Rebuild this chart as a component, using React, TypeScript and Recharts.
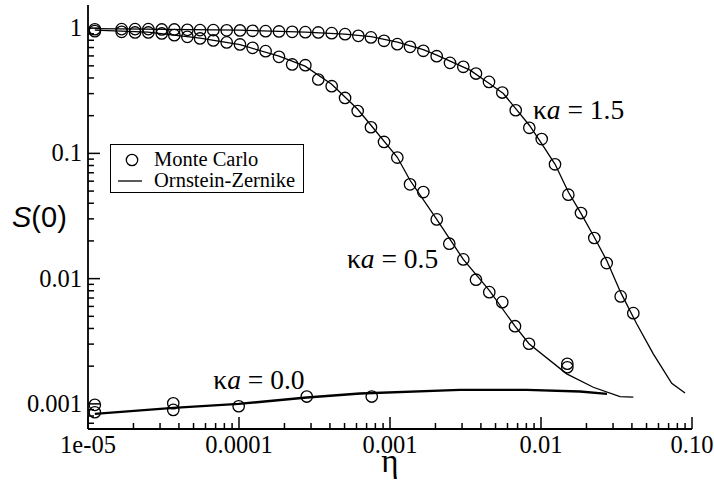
import React from 'react';
import { ComposedChart, Line, Scatter, XAxis, YAxis, ReferenceDot, Legend } from 'recharts';

// ---- Monte Carlo data ----
const mcEta15 = [1.11e-5, 1.67e-5, 2.05e-5, 2.51e-5, 3.08e-5, 3.73e-5, 4.55e-5, 5.52e-5, 6.76e-5, 8.29e-5, 1.015e-4, 1.23e-4, 1.5e-4, 1.84e-4, 2.25e-4, 2.75e-4, 3.35e-4, 4.11e-4, 5.04e-4, 6.17e-4, 7.48e-4, 9.13e-4, 1.118e-3, 1.357e-3, 1.662e-3, 2.038e-3, 2.496e-3, 3.058e-3, 3.711e-3, 4.524e-3, 5.541e-3, 6.8e-3, 8.366e-3, 1.011e-2, 1.238e-2, 1.517e-2, 1.84e-2, 2.254e-2, 2.723e-2, 3.371e-2, 4.087e-2];
const mcS15 = [0.98, 0.982, 0.982, 0.982, 0.976, 0.976, 0.969, 0.964, 0.964, 0.96, 0.958, 0.952, 0.946, 0.941, 0.934, 0.929, 0.924, 0.912, 0.895, 0.868, 0.843, 0.792, 0.745, 0.709, 0.659, 0.597, 0.528, 0.491, 0.434, 0.372, 0.306, 0.221, 0.16, 0.13, 0.0818, 0.0468, 0.0334, 0.0211, 0.0133, 0.00721, 0.0053];

const mcEta05 = [1.11e-5, 1.67e-5, 2.05e-5, 2.51e-5, 3.08e-5, 3.73e-5, 4.55e-5, 5.52e-5, 6.76e-5, 8.29e-5, 1.015e-4, 1.23e-4, 1.5e-4, 1.84e-4, 2.25e-4, 2.75e-4, 3.35e-4, 4.11e-4, 5.04e-4, 6.11e-4, 7.48e-4, 9.13e-4, 1.118e-3, 1.357e-3, 1.662e-3, 2.04e-3, 2.47e-3, 3.058e-3, 3.711e-3, 4.545e-3, 5.541e-3, 6.727e-3, 8.328e-3, 1.494e-2, 1.494e-2];
const mcS05 = [0.946, 0.934, 0.924, 0.924, 0.907, 0.879, 0.852, 0.827, 0.797, 0.769, 0.741, 0.696, 0.655, 0.59, 0.513, 0.506, 0.389, 0.344, 0.277, 0.218, 0.1617, 0.1234, 0.0926, 0.0566, 0.0491, 0.0297, 0.019, 0.01424, 0.0098, 0.0078, 0.00649, 0.00417, 0.00302, 0.00209, 0.00196];

const mcEta00 = [1.11e-5, 1.11e-5, 3.67e-5, 3.67e-5, 9.95e-5, 2.81e-4, 7.57e-4];
const mcS00 = [9.82e-4, 8.57e-4, 1.011e-3, 8.95e-4, 9.57e-4, 1.144e-3, 1.144e-3];

// ---- Ornstein-Zernike curves ----
const ozEta15 = [1.11e-5, 1.0e-4, 2.75e-4, 5.0e-4, 7.5e-4, 1.12e-3, 1.66e-3, 2.04e-3, 2.5e-3, 3.39e-3, 4.52e-3, 5.63e-3, 6.8e-3, 8.37e-3, 1.01e-2, 1.24e-2, 1.52e-2, 1.84e-2, 2.25e-2, 2.72e-2, 3.37e-2, 4.3e-2, 5.54e-2, 7.34e-2, 8.99e-2];
const ozS15 = [0.991, 0.964, 0.929, 0.895, 0.855, 0.773, 0.673, 0.608, 0.545, 0.462, 0.363, 0.3006, 0.228, 0.1677, 0.1198, 0.0818, 0.0489, 0.0332, 0.0215, 0.014, 0.00776, 0.00436, 0.00251, 0.00146, 0.00122];

const ozEta05 = [1.11e-5, 2.496e-5, 5.52e-5, 1.015e-4, 1.84e-4, 2.74e-4, 4.11e-4, 6.11e-4, 7.48e-4, 1.118e-3, 1.357e-3, 2.04e-3, 3.058e-3, 4.545e-3, 6.727e-3, 8.328e-3, 1.48e-2, 2.22e-2, 3.335e-2, 4.087e-2];
const ozS05 = [0.964, 0.929, 0.832, 0.738, 0.597, 0.497, 0.357, 0.2252, 0.1677, 0.0931, 0.061, 0.0297, 0.01424, 0.00805, 0.00417, 0.00302, 0.001737, 0.001357, 0.001144, 0.00113];

const ozEta00 = [1.11e-5, 3.67e-5, 9.95e-5, 2.81e-4, 6.33e-4, 2.908e-3, 8.04e-3, 1.813e-2, 2.736e-2];
const ozS00 = [8.32e-4, 9.29e-4, 1.0e-3, 1.123e-3, 1.209e-3, 1.294e-3, 1.294e-3, 1.254e-3, 1.202e-3];

// ---- axes / labels ----
const xDomain = [1e-5, 0.1];
const yDomain = [0.00063, 1.53];
const xMajorTicks = [1e-5, 1e-4, 1e-3, 1e-2, 1e-1];
const xTickLabels = ['1e-05', '0.0001', '0.001', '0.01', '0.10'];
const yMajorTicks = [0.001, 0.01, 0.1, 1];
const yTickLabels = ['0.001', '0.01', '0.1', '1'];
const minorMultipliers = [2, 3, 4, 5, 6, 7, 8, 9];
const legendNames = ['Monte Carlo', 'Ornstein-Zernike'];
const annotations = [
  { eta: 8.85e-3, s: 0.1897, value: '1.5' },
  { eta: 5.19e-4, s: 0.01206, value: '0.5' },
  { eta: 6.76e-5, s: 1.325e-3, value: '0.0' },
];

const pts = (eta: number[], s: number[]) => eta.map((e, i) => ({ eta: e, s: s[i] }));

const buildTicks = (majors: number[], lo: number, hi: number) => {
  const out: number[] = [...majors];
  majors.forEach((m) => minorMultipliers.forEach((k) => out.push(m * k)));
  [majors[0] / 10].forEach((m) => minorMultipliers.forEach((k) => out.push(m * k)));
  return out.filter((v) => v >= lo * 0.9999 && v <= hi * 1.0001).sort((a, b) => a - b);
};
const xTicks = buildTicks(xMajorTicks, xDomain[0], xDomain[1]);
const yTicks = buildTicks(yMajorTicks, yDomain[0], yDomain[1]);

const labelFor = (v: number, majors: number[], labels: string[]) => {
  const i = majors.findIndex((m) => Math.abs(m - v) / m < 1e-6);
  return i >= 0 ? labels[i] : null;
};

const SERIF = '"Liberation Serif", "Times New Roman", serif';
const SANS = '"Liberation Sans", Arial, sans-serif';
const serifStyle = { fontFamily: SERIF };
const MAJ = 12;
const MIN = 6;
const TW = 1.5;

const BottomTick = (p: any) => {
  const lab = labelFor(p.payload.value, xMajorTicks, xTickLabels);
  const len = lab !== null ? MAJ : MIN;
  return (
    <g>
      <line x1={p.x} x2={p.x} y1={p.y} y2={p.y - len} stroke="#000" strokeWidth={TW} />
      {lab !== null && (
        <text x={p.x} y={p.y + 24} textAnchor="middle" style={serifStyle} fontSize={24.5} fill="#000">
          {lab}
        </text>
      )}
    </g>
  );
};
const TopTick = (p: any) => {
  const lab = labelFor(p.payload.value, xMajorTicks, xTickLabels);
  const len = lab !== null ? MAJ : MIN;
  return <line x1={p.x} x2={p.x} y1={p.y} y2={p.y + len} stroke="#000" strokeWidth={TW} />;
};
const LeftTick = (p: any) => {
  const lab = labelFor(p.payload.value, yMajorTicks, yTickLabels);
  const len = lab !== null ? MAJ : MIN;
  return (
    <g>
      <line x1={p.x} x2={p.x + len} y1={p.y} y2={p.y} stroke="#000" strokeWidth={TW} />
      {lab !== null && (
        <text x={p.x - 6} y={p.y + 8} textAnchor="end" style={serifStyle} fontSize={24.5} fill="#000">
          {lab}
        </text>
      )}
    </g>
  );
};
const RightTick = (p: any) => {
  const lab = labelFor(p.payload.value, yMajorTicks, yTickLabels);
  const len = lab !== null ? MAJ : MIN;
  return <line x1={p.x} x2={p.x - len} y1={p.y} y2={p.y} stroke="#000" strokeWidth={TW} />;
};

const OpenCircle = (p: any) => (
  <circle cx={p.cx} cy={p.cy} r={5.7} fill="none" stroke="#000" strokeWidth={1.3} />
);

const LegendBox = () => (
  <div
    style={{
      width: 194,
      height: 49,
      border: '1.3px solid #000',
      boxSizing: 'border-box',
      background: '#fff',
      position: 'relative',
    }}
  >
    <svg width={194} height={49} style={{ position: 'absolute', left: -1, top: -1 }}>
      <circle cx={22} cy={16} r={5.7} fill="none" stroke="#000" strokeWidth={1.3} />
      <line x1={8} x2={32} y1={37} y2={37} stroke="#000" strokeWidth={1.3} />
      <text x={44} y={22} style={serifStyle} fontSize={20.5} fill="#000">
        {legendNames[0]}
      </text>
      <text x={44} y={42.5} style={serifStyle} fontSize={20.5} fill="#000">
        {legendNames[1]}
      </text>
    </svg>
  </div>
);

const axisLine = { stroke: '#000', strokeWidth: 1.8 };

export default function App() {
  return (
    <div style={{ position: 'absolute', left: 0, top: 0, width: 714, height: 486, background: '#fff' }}>
      <ComposedChart width={714} height={486} margin={{ top: 5, right: 22, bottom: 0, left: 8 }}>
        <XAxis
          xAxisId="x"
          dataKey="eta"
          type="number"
          scale="log"
          domain={xDomain}
          allowDataOverflow
          ticks={xTicks}
          interval={0}
          tick={BottomTick}
          tickSize={0}
          tickMargin={0}
          tickLine={false}
          axisLine={axisLine}
          height={57}
          label={{
            content: () => (
              <text x={390} y={472} textAnchor="middle" style={serifStyle} fontSize={33} fill="#000">
                η
              </text>
            ),
          }}
        />
        <XAxis
          xAxisId="top"
          orientation="top"
          type="number"
          scale="log"
          domain={xDomain}
          allowDataOverflow
          ticks={xTicks}
          interval={0}
          tick={TopTick}
          tickSize={0}
          tickMargin={0}
          tickLine={false}
          axisLine={axisLine}
          height={0}
        />
        <YAxis
          yAxisId="y"
          dataKey="s"
          type="number"
          scale="log"
          domain={yDomain}
          allowDataOverflow
          ticks={yTicks}
          interval={0}
          tick={LeftTick}
          tickSize={0}
          tickMargin={0}
          tickLine={false}
          axisLine={axisLine}
          width={80}
          label={{
            content: () => (
              <text x={12} y={227} style={{ fontFamily: SANS }} fontSize={29} fill="#000">
                <tspan fontStyle="italic">S</tspan>(0)
              </text>
            ),
          }}
        />
        <YAxis
          yAxisId="right"
          orientation="right"
          type="number"
          scale="log"
          domain={yDomain}
          allowDataOverflow
          ticks={yTicks}
          interval={0}
          tick={RightTick}
          tickSize={0}
          tickMargin={0}
          tickLine={false}
          axisLine={axisLine}
          width={0}
        />
        <Legend
          layout="horizontal"
          verticalAlign="middle"
          align="center"
          content={() => <LegendBox />}
          wrapperStyle={{ left: 110, top: 144, width: 194, height: 49 }}
        />
        <Line xAxisId="x" yAxisId="y" data={pts(ozEta15, ozS15)} dataKey="s" type="linear" stroke="#000" strokeWidth={1.3} dot={false} isAnimationActive={false} name="OZ 1.5" />
        <Line xAxisId="x" yAxisId="y" data={pts(ozEta05, ozS05)} dataKey="s" type="linear" stroke="#000" strokeWidth={1.3} dot={false} isAnimationActive={false} name="OZ 0.5" />
        <Line xAxisId="x" yAxisId="y" data={pts(ozEta00, ozS00)} dataKey="s" type="linear" stroke="#000" strokeWidth={2.4} dot={false} isAnimationActive={false} name="OZ 0.0" />
        <Scatter xAxisId="x" yAxisId="y" data={pts(mcEta15, mcS15)} dataKey="s" shape={OpenCircle} isAnimationActive={false} name="MC 1.5" />
        <Scatter xAxisId="x" yAxisId="y" data={pts(mcEta05, mcS05)} dataKey="s" shape={OpenCircle} isAnimationActive={false} name="MC 0.5" />
        <Scatter xAxisId="x" yAxisId="y" data={pts(mcEta00, mcS00)} dataKey="s" shape={OpenCircle} isAnimationActive={false} name="MC 0.0" />
        {annotations.map((a) => (
          <ReferenceDot
            key={a.value}
            xAxisId="x"
            yAxisId="y"
            x={a.eta}
            y={a.s}
            r={0}
            shape={(p: any) => (
              <text x={p.cx} y={p.cy} style={serifStyle} fontSize={27.5} fill="#000">
                κ<tspan fontStyle="italic">a</tspan> = {a.value}
              </text>
            )}
          />
        ))}
      </ComposedChart>
    </div>
  );
}
